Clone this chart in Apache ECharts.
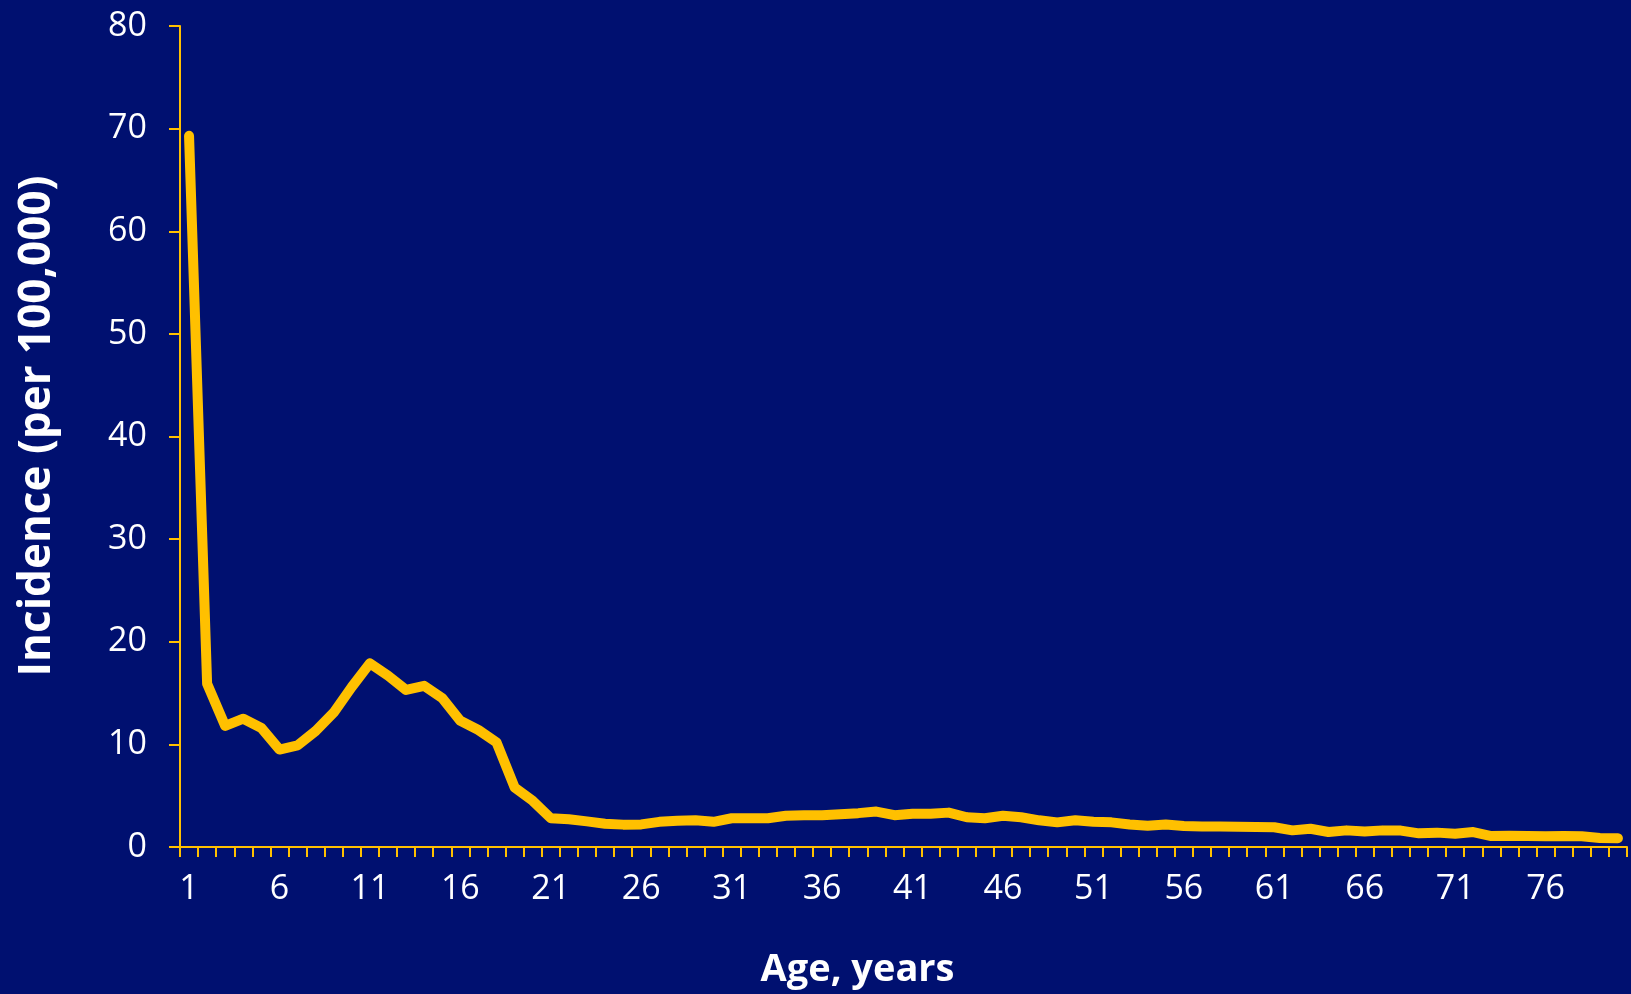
<!DOCTYPE html>
<html>
<head>
<meta charset="utf-8">
<script src="https://cdn.jsdelivr.net/npm/echarts@6/dist/echarts.min.js"></script>
<style>
html,body{margin:0;padding:0;background:#001070;}
#chart{width:1631px;height:994px;}
</style>
</head>
<body>
<div id="chart"></div>
<script>
const ages = Array.from({length: 80}, (_, i) => String(i + 1));
const incidence = [
  69.3, 15.9, 11.8, 12.5, 11.6, 9.5, 9.9, 11.3, 13.1, 15.6,
  17.9, 16.7, 15.3, 15.7, 14.5, 12.3, 11.4, 10.2, 5.8, 4.5,
  2.8, 2.7, 2.5, 2.27, 2.18, 2.2, 2.45, 2.55, 2.6, 2.45,
  2.8, 2.8, 2.8, 3.05, 3.1, 3.1, 3.2, 3.3, 3.45, 3.1,
  3.25, 3.25, 3.35, 2.9, 2.8, 3.05, 2.9, 2.6, 2.4, 2.6,
  2.45, 2.4, 2.2, 2.08, 2.2, 2.05, 2.0, 2.0, 1.98, 1.95,
  1.92, 1.62, 1.78, 1.46, 1.62, 1.52, 1.62, 1.6, 1.33, 1.4,
  1.3, 1.46, 1.07, 1.1, 1.07, 1.04, 1.07, 1.04, 0.88, 0.85
];
const xTitle = 'Age, years';
const yTitle = 'Incidence (per 100,000)';

const yellow = '#FFC000';
const chart = echarts.init(document.getElementById('chart'), null, {renderer: 'canvas'});
chart.setOption({
  backgroundColor: '#001070',
  animation: false,
  grid: {left: 180, right: 4, top: 26, bottom: 132, containLabel: false},
  xAxis: {
    type: 'category',
    data: ages,
    boundaryGap: true,
    name: xTitle,
    nameLocation: 'middle',
    nameGap: 104,
    nameTextStyle: {color: '#fff', fontFamily: 'Open Sans', fontWeight: 'bold', fontSize: 38, padding: [0, 92, 0, 0]},
    axisLine: {show: true, lineStyle: {color: yellow, width: 2}},
    axisTick: {show: true, interval: 0, length: 10, inside: false, lineStyle: {color: yellow, width: 2}},
    axisLabel: {interval: 4, color: '#fff', fontFamily: 'Open Sans', fontSize: 34, margin: 25},
    splitLine: {show: false}
  },
  yAxis: {
    type: 'value',
    min: 0, max: 80, interval: 10,
    name: yTitle,
    nameLocation: 'middle',
    nameGap: 121,
    nameRotate: 90,
    nameTextStyle: {color: '#fff', fontFamily: 'Open Sans', fontWeight: 'bold', fontSize: 44, padding: [0, 0, 0, 21]},
    axisLine: {show: true, lineStyle: {color: yellow, width: 2}},
    axisTick: {show: true, length: 11, lineStyle: {color: yellow, width: 2}},
    axisLabel: {color: '#fff', fontFamily: 'Open Sans', fontSize: 34, margin: 33},
    splitLine: {show: false}
  },
  series: [{
    type: 'line',
    data: incidence,
    symbol: 'none',
    smooth: false,
    lineStyle: {color: yellow, width: 10, cap: 'round', join: 'round'}
  }]
});
</script>
</body>
</html>
